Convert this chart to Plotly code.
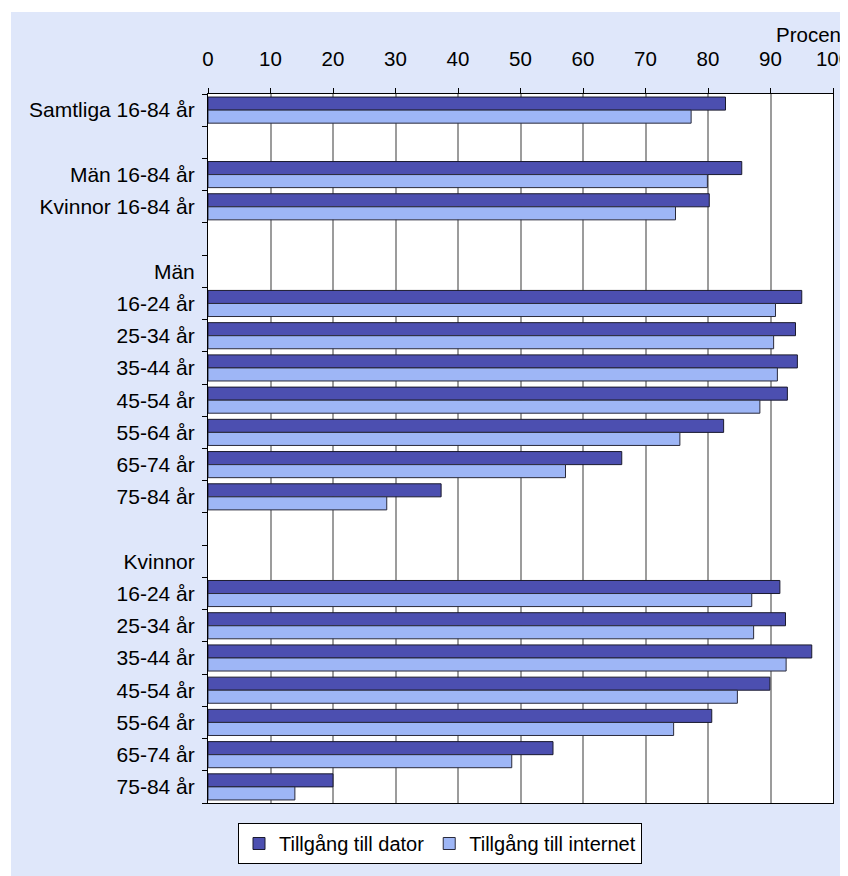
import plotly.graph_objects as go

# ---- data ----
category_ids = ["samtliga", "blank1", "man_tot", "kv_tot", "blank2", "man_head",
                "m16", "m25", "m35", "m45", "m55", "m65", "m75", "blank3", "kv_head",
                "k16", "k25", "k35", "k45", "k55", "k65", "k75"]
category_labels = ["Samtliga 16-84 år", "", "Män 16-84 år", "Kvinnor 16-84 år", "", "Män",
                   "16-24 år", "25-34 år", "35-44 år", "45-54 år", "55-64 år", "65-74 år", "75-84 år",
                   "", "Kvinnor",
                   "16-24 år", "25-34 år", "35-44 år", "45-54 år", "55-64 år", "65-74 år", "75-84 år"]
dator = [82.8, None, 85.4, 80.2, None, None,
         95.0, 94.0, 94.3, 92.7, 82.5, 66.2, 37.3,
         None, None,
         91.5, 92.4, 96.6, 89.9, 80.6, 55.2, 20.0]
internet = [77.3, None, 79.9, 74.8, None, None,
            90.8, 90.5, 91.1, 88.3, 75.5, 57.2, 28.6,
            None, None,
            87.0, 87.3, 92.5, 84.7, 74.5, 48.6, 13.9]
series_names = ["Tillgång till dator", "Tillgång till internet"]
x_ticks = list(range(0, 101, 10))

# ---- styles ----
FONT = "Liberation Sans, Arial, sans-serif"
DARK = "#4c4fb0"
LIGHT = "#9eb6f6"
BG = "#dfe7fa"

OFF = 8  # page body margin
W, H = 848 - OFF, 876 - OFF
ML, MT = 200, 86
PW, PH = 625, 709
MR, MB = W - ML - PW, H - MT - PH


def px_x(page_x):
    return (page_x - OFF - ML) / PW


def px_y(page_y):
    return 1 - (page_y - OFF - MT) / PH


fig = go.Figure()
fig.add_trace(go.Bar(x=dator, y=category_ids, orientation="h", name=series_names[0],
                     marker=dict(color=DARK, line=dict(color="#1a1a2e", width=1))))
fig.add_trace(go.Bar(x=internet, y=category_ids, orientation="h", name=series_names[1],
                     marker=dict(color=LIGHT, line=dict(color="#2a2a3a", width=1))))

# background: white outer strip, blue panel, white plot area
fig.add_shape(type="rect", xref="paper", yref="paper", layer="below",
              x0=px_x(11), x1=px_x(870), y0=px_y(900), y1=px_y(12),
              fillcolor=BG, line=dict(width=0))
fig.add_shape(type="rect", xref="paper", yref="paper", layer="below",
              x0=0, x1=1, y0=0, y1=1, fillcolor="white", line=dict(width=0))

fig.add_annotation(text="Procent", xref="paper", yref="paper",
                   x=px_x(774), y=px_y(35), xanchor="left", yanchor="middle",
                   showarrow=False, font=dict(family=FONT, size=20.5, color="black"))

n = len(category_ids)
fig.update_layout(
    width=W, height=H,
    margin=dict(l=ML, r=MR, t=MT, b=MB, pad=0),
    paper_bgcolor="white", plot_bgcolor="rgba(0,0,0,0)",
    barmode="group", bargap=0.19, bargroupgap=0,
    font=dict(family=FONT, size=20, color="black"),
    showlegend=True,
    legend=dict(orientation="h", x=px_x(440), xanchor="center",
                y=px_y(823), yanchor="top",
                bgcolor="white", bordercolor="black", borderwidth=1,
                font=dict(family=FONT, size=20, color="black"),
                traceorder="normal", itemclick=False, itemwidth=30),
    xaxis=dict(side="top", range=[0, 100], tickvals=x_ticks, ticktext=[str(v) for v in x_ticks],
               showgrid=True, gridcolor="#9c9c9c", gridwidth=1.5,
               showline=True, linecolor="black", linewidth=1, mirror=True,
               ticks="outside", ticklen=5, tickcolor="black", ticklabelstandoff=14,
               ticklabeloverflow="allow", automargin=False,
               zeroline=False, tickfont=dict(family=FONT, size=20.5, color="black"),
               fixedrange=True),
    yaxis=dict(type="category", categoryorder="array", categoryarray=category_ids,
               tickmode="array", tickvals=category_ids, ticktext=category_labels,
               range=[n - 0.5, -0.5], tickson="boundaries", automargin=False,
               ticks="outside", ticklen=5, tickcolor="black", ticklabelstandoff=8,
               showgrid=False, showline=True, linecolor="black", linewidth=1, mirror=True,
               zeroline=False, tickfont=dict(family=FONT, size=21, color="black"),
               fixedrange=True),
)

fig.write_html("out.html")
